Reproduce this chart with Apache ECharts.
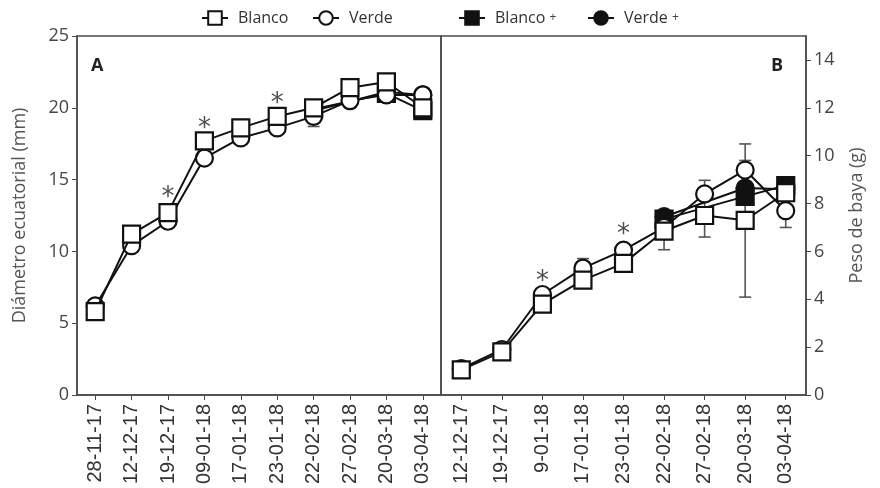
<!DOCTYPE html>
<html><head><meta charset="utf-8">
<script src="https://cdn.jsdelivr.net/npm/echarts@6/dist/echarts.min.js"></script>
<style>html,body{margin:0;padding:0;background:#fff}#c{width:880px;height:488px}</style>
</head><body><div id="c"></div>
<script>
// ---- data ----
const catsA = ['28-11-17','12-12-17','19-12-17','09-01-18','17-01-18','23-01-18','22-02-18','27-02-18','20-03-18','03-04-18'];
const catsB = ['12-12-17','19-12-17','9-01-18','17-01-18','23-01-18','22-02-18','27-02-18','20-03-18','03-04-18'];

const blancoA = [5.8, 11.2, 12.7, 17.7, 18.6, 19.4, 20.0, 21.4, 21.8, 20.0];
const verdeA  = [6.2, 10.4, 12.1, 16.5, 17.9, 18.6, 19.4, 20.5, 20.9, 20.9];
const blancoPlusA = [null, null, null, null, null, null, 19.9, null, 21.0, 19.8];
const verdePlusA  = [null, null, null, null, null, null, 19.8, null, 21.1, 20.9];

const blancoB = [1.05, 1.8, 3.8, 4.8, 5.5, 6.85, 7.5, 7.3, 8.45];
const verdeB  = [1.1, 1.9, 4.2, 5.3, 6.05, 7.0, 8.4, 9.4, 7.7];
const blancoPlusB = [null, null, null, null, null, 7.35, null, 8.3, 8.75];
const verdePlusB  = [null, null, null, null, null, 7.45, null, 8.65, 8.6];

// error bars: [category index, low, high]
const errA = [[6, 18.7, 19.5], [7, 20.0, 20.5]];
const errB = [[3, 5.3, 5.7], [5, 6.07, 7.65], [6, 6.6, 8.97], [7, 4.09, 10.49], [7, 9.4, 9.8], [8, 7.0, 8.8]];

// significance asterisks: [category index, value]
const starA = [[2, 14.2], [3, 19.0], [5, 20.7]];
const starB = [[2, 5.0], [4, 6.95]];

const yTicksA = [0, 5, 10, 15, 20, 25];
const yTicksB = [0, 2, 4, 6, 8, 10, 12, 14];

const names = ['Blanco', 'Verde', 'Blanco +', 'Verde +'];

// ---- chart ----
const chart = echarts.init(document.getElementById('c'), null, {renderer: 'canvas'});
const axisColor = '#4a4a4a';
const fontUI = '"Open Sans", "Noto Sans", sans-serif';

function lineS(name, data, idx, symbol, filled, z) {
  return {
    type: 'line', name, data, xAxisIndex: idx, yAxisIndex: idx,
    symbol, symbolSize: 17, connectNulls: true, z,
    lineStyle: {color: '#111', width: 2},
    itemStyle: {color: filled ? '#111' : '#fff', borderColor: '#111', borderWidth: 2.2},
    emphasis: {disabled: true}, animation: false
  };
}
function errS(data, idx) {
  return {
    type: 'custom', xAxisIndex: idx, yAxisIndex: idx, data, z: 1, silent: true,
    renderItem(params, api) {
      const top = api.coord([api.value(0), api.value(2)]);
      const bot = api.coord([api.value(0), api.value(1)]);
      const w = 6;
      const st = {stroke: '#555', lineWidth: 1.6};
      return {type: 'group', children: [
        {type: 'line', shape: {x1: top[0], y1: top[1], x2: bot[0], y2: bot[1]}, style: st},
        {type: 'line', shape: {x1: top[0]-w, y1: top[1], x2: top[0]+w, y2: top[1]}, style: st},
        {type: 'line', shape: {x1: bot[0]-w, y1: bot[1], x2: bot[0]+w, y2: bot[1]}, style: st}
      ]};
    }
  };
}
function starS(data, idx) {
  return {
    type: 'scatter', xAxisIndex: idx, yAxisIndex: idx, data, symbolSize: 0, silent: true, z: 5,
    label: {show: true, position: 'inside', formatter: '*', fontSize: 26, color: '#222',
            fontFamily: 'DejaVu Sans', offset: [0, 7]}
  };
}
function legendAt(name, left) {
  return {
    data: [name], left, top: 4, itemWidth: 26, itemHeight: 17, itemGap: 0,
    selectedMode: false,
    formatter: n => n.replace(' +', ' {s|+}'),
    textStyle: {fontSize: 16, lineHeight: 18, color: '#333', fontFamily: fontUI, padding: [0, 0, 0, 5],
                rich: {s: {fontSize: 12, lineHeight: 18, color: '#444', fontFamily: fontUI, verticalAlign: 'middle'}}}
  };
}

const xAxisCommon = {
  type: 'category', boundaryGap: true,
  axisLine: {show: true, lineStyle: {color: axisColor, width: 1.5}},
  axisTick: {show: true, alignWithLabel: true, inside: false, length: 5, lineStyle: {color: axisColor}},
  axisLabel: {rotate: 90, fontSize: 20, color: '#333', fontFamily: '"Liberation Sans", Arial, sans-serif', margin: 9, interval: 0},
  splitLine: {show: false}
};

chart.setOption({
  backgroundColor: '#fff',
  animation: false,
  legend: [legendAt(names[0], 196), legendAt(names[1], 307), legendAt(names[2], 453), legendAt(names[3], 582)],
  grid: [
    {left: 77, right: 439, top: 36, bottom: 93, show: true, borderColor: axisColor, borderWidth: 1.5, backgroundColor: 'transparent'},
    {left: 441, right: 74, top: 36, bottom: 93, show: true, borderColor: axisColor, borderWidth: 1.5, backgroundColor: 'transparent'}
  ],
  xAxis: [
    Object.assign({}, xAxisCommon, {gridIndex: 0, data: catsA}),
    Object.assign({}, xAxisCommon, {gridIndex: 1, data: catsB})
  ],
  yAxis: [
    {type: 'value', gridIndex: 0, min: 0, max: 25, interval: 5, position: 'left',
     name: 'Diámetro ecuatorial (mm)', nameLocation: 'middle', nameRotate: 90, nameGap: 48,
     nameTextStyle: {fontSize: 18, color: '#555', fontFamily: fontUI},
     axisLine: {show: true, lineStyle: {color: axisColor, width: 1.5}},
     axisTick: {show: true, inside: false, length: 5, lineStyle: {color: axisColor}, customValues: yTicksA},
     axisLabel: {fontSize: 18, color: '#444', fontFamily: fontUI, margin: 8, customValues: yTicksA},
     splitLine: {show: false}},
    {type: 'value', gridIndex: 1, min: 0, max: 15, position: 'right',
     name: 'Peso de baya (g)', nameLocation: 'middle', nameRotate: 90, nameGap: 42,
     nameTextStyle: {fontSize: 18, color: '#555', fontFamily: fontUI},
     axisLine: {show: true, lineStyle: {color: axisColor, width: 1.5}},
     axisTick: {show: true, inside: false, length: 5, lineStyle: {color: axisColor}, customValues: yTicksB},
     axisLabel: {fontSize: 18, color: '#444', fontFamily: fontUI, margin: 8, customValues: yTicksB},
     splitLine: {show: false}}
  ],
  graphic: [
    {type: 'text', left: 91, top: 57, style: {text: 'A', font: 'bold 18px "Open Sans", sans-serif', fill: '#222'}},
    {type: 'text', left: 771, top: 57, style: {text: 'B', font: 'bold 18px "Open Sans", sans-serif', fill: '#222'}}
  ],
  series: [
    errS(errA, 0),
    lineS(names[2], blancoPlusA, 0, 'rect', true, 2),
    lineS(names[3], verdePlusA, 0, 'circle', true, 2),
    lineS(names[1], verdeA, 0, 'circle', false, 3),
    lineS(names[0], blancoA, 0, 'rect', false, 4),
    starS(starA, 0),
    errS(errB, 1),
    lineS(names[2], blancoPlusB, 1, 'rect', true, 2),
    lineS(names[3], verdePlusB, 1, 'circle', true, 2),
    lineS(names[1], verdeB, 1, 'circle', false, 3),
    lineS(names[0], blancoB, 1, 'rect', false, 4),
    starS(starB, 1)
  ]
});
</script>
</body></html>
